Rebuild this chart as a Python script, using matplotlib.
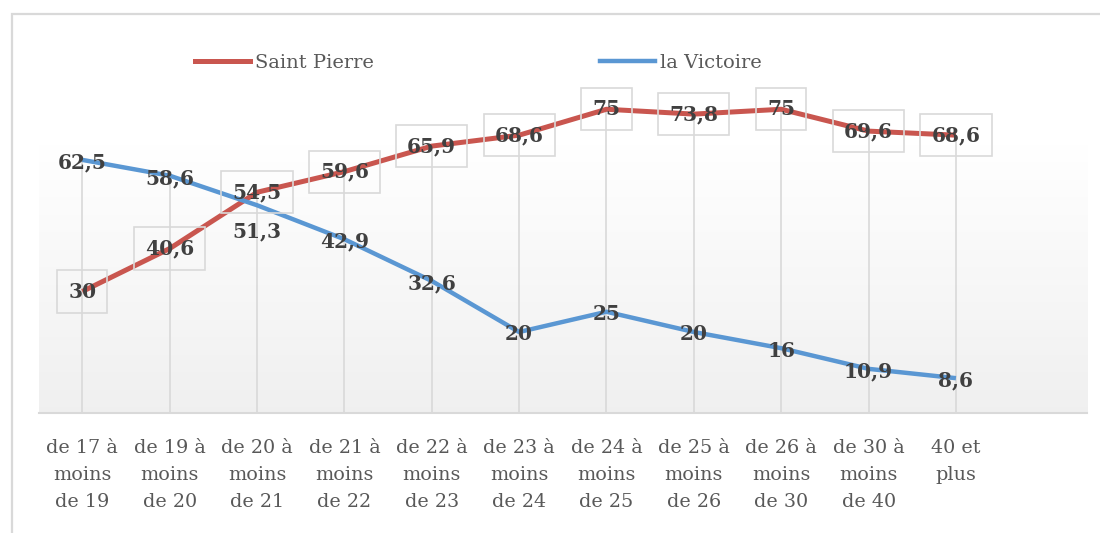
import numpy as np
import matplotlib
matplotlib.use("Agg")
import matplotlib.pyplot as plt
from matplotlib.lines import Line2D
from matplotlib.patches import Rectangle

# Age groups (x axis) and the share for each district
categories = [
    "de 17 à\nmoins\nde 19", "de 19 à\nmoins\nde 20", "de 20 à\nmoins\nde 21",
    "de 21 à\nmoins\nde 22", "de 22 à\nmoins\nde 23", "de 23 à\nmoins\nde 24",
    "de 24 à\nmoins\nde 25", "de 25 à\nmoins\nde 26", "de 26 à\nmoins\nde 30",
    "de 30 à\nmoins\nde 40", "40 et\nplus",
]
saint_pierre = [30, 40.6, 54.5, 59.6, 65.9, 68.6, 75, 73.8, 75, 69.6, 68.6]
la_victoire = [62.5, 58.6, 51.3, 42.9, 32.6, 20, 25, 20, 16, 10.9, 8.6]

RED = "#c9564f"
BLUE = "#5a97d3"
TEXT = "#595959"
LABEL = "#404040"
GRID = "#d9d9d9"

fig = plt.figure(figsize=(11, 5.33), dpi=100)
W, H = 1100, 533

# outer chart frame (top and left edges visible)
fig.patches.append(Rectangle((12 / W, -0.2), 1.2, 1 - 14 / H + 0.2,
                             transform=fig.transFigure, fill=False,
                             edgecolor=GRID, linewidth=1.6, zorder=0))

ax = fig.add_axes([38.6 / W, (H - 413) / H, (1087 - 38.6) / W, (413 - 40) / H])
ax.set_xlim(-0.5, 11.5)
ax.set_ylim(0, 92.1)
ax.set_facecolor("none")

# soft vertical gradient behind the series
grad = np.linspace(0, 1, 256).reshape(-1, 1, 1)
bottom = np.array([0.94, 0.94, 0.94])
top = np.array([1.0, 1.0, 1.0])
img = bottom + (top - bottom) * grad
ax.imshow(img, extent=(-0.5, 11.5, 0, 66.2), origin="lower", aspect="auto", zorder=0)

x = np.arange(len(categories))

# drop lines from the highest point down to the axis
ax.vlines(x, 0, np.maximum(saint_pierre, la_victoire), color=GRID, linewidth=1.2, zorder=1)

ax.plot(x, saint_pierre, color=RED, linewidth=3.6, solid_capstyle="butt", zorder=3)
ax.plot(x, la_victoire, color=BLUE, linewidth=3.2, solid_capstyle="butt", zorder=3)

def fmt(v):
    return (f"{v:g}").replace(".", ",")

label_font = dict(family="DejaVu Serif", fontweight="bold", fontsize=14.5, color=LABEL)

for xi, v in zip(x, saint_pierre):
    ax.text(xi, v, fmt(v), ha="center", va="center", zorder=5,
            bbox=dict(boxstyle="square,pad=0.55", facecolor="none", edgecolor=GRID, linewidth=1.2),
            **label_font)

for xi, v in zip(x, la_victoire):
    dy = -6.5 if xi == 2 else -0.6
    ax.text(xi, v + dy, fmt(v), ha="center", va="center", zorder=5, **label_font)

for s in ("top", "right", "left"):
    ax.spines[s].set_visible(False)
ax.spines["bottom"].set_color(GRID)
ax.spines["bottom"].set_linewidth(1.5)
ax.set_yticks([])
ax.set_xticks(x)
ax.set_xticklabels(categories, family="DejaVu Serif", fontsize=13.8, color=TEXT, linespacing=1.62)
ax.tick_params(axis="x", length=0, pad=19)

handles = [Line2D([], [], color=RED, linewidth=3.6), Line2D([], [], color=BLUE, linewidth=3.2)]
fig.legend(handles, ["Saint Pierre", "la Victoire"], ncol=2, frameon=False,
           loc="center left", bbox_to_anchor=(195 / W, 1 - 63 / H),
           borderpad=0, borderaxespad=0, handlelength=2.85, handletextpad=0.25,
           columnspacing=11.6, prop=dict(family="DejaVu Serif", size=14),
           labelcolor=TEXT)

fig.savefig("out.png", dpi=100, facecolor="white")
